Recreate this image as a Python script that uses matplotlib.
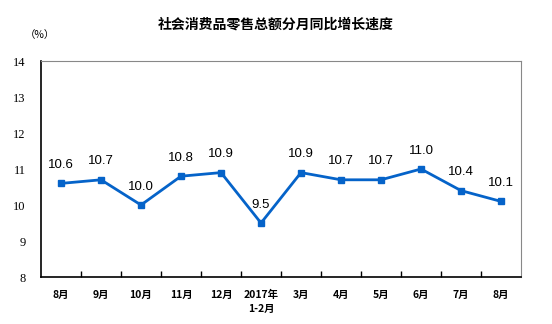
import matplotlib
matplotlib.use('Agg')
import matplotlib.pyplot as plt
import numpy as np

plt.rcParams['font.family'] = ['Noto Sans CJK SC', 'DejaVu Sans']

months = ['8月', '9月', '10月', '11月', '12月', '2017年\n1-2月', '3月', '4月', '5月', '6月', '7月', '8月']
growth = [10.6, 10.7, 10.0, 10.8, 10.9, 9.5, 10.9, 10.7, 10.7, 11.0, 10.4, 10.1]
y_ticks = [8, 9, 10, 11, 12, 13, 14]

fig = plt.figure(figsize=(5.52, 3.24), dpi=100)
ax = fig.add_axes([41/552, 1 - 277/324, 480/552, 216/324])

x = np.arange(len(months))
ax.plot(x, growth, color='#0563C9', lw=2, marker='s', ms=5, zorder=3)
for xi, v in zip(x, growth):
    ax.annotate(f'{v:.1f}', (xi, v), xytext=(0, 9), textcoords='offset points',
                ha='center', va='bottom', fontsize=9.5, family='Liberation Sans')

ax.set_xlim(-0.5, len(months) - 0.5)
ax.set_ylim(8, 14)
ax.set_yticks(y_ticks)
ax.set_yticklabels([str(t) for t in y_ticks], family='Liberation Serif', fontsize=9)
ax.tick_params(axis='y', length=0, pad=11)

ax.set_xticks(x[:-1] + 0.5)
ax.set_xticklabels([])
ax.tick_params(axis='x', direction='in', length=4, width=1, color='black')
for xi, lab in zip(x, months):
    ax.text(xi, -0.06, lab, transform=ax.get_xaxis_transform(), ha='center', va='top',
            fontsize=7.5, fontweight='bold', linespacing=1.5)

for s in ['top', 'right']:
    ax.spines[s].set_color('#888888')
for s in ['left', 'bottom']:
    ax.spines[s].set_color('black')
    ax.spines[s].set_linewidth(1.2)

fig.text(0.5, 1 - 25/324, '社会消费品零售总额分月同比增长速度', ha='center', va='center',
         fontsize=10, fontweight='bold')
fig.text(40/552, 1 - 35/324, '（%）', ha='center', va='center', fontsize=7.5)

fig.savefig('out.png', dpi=100)
